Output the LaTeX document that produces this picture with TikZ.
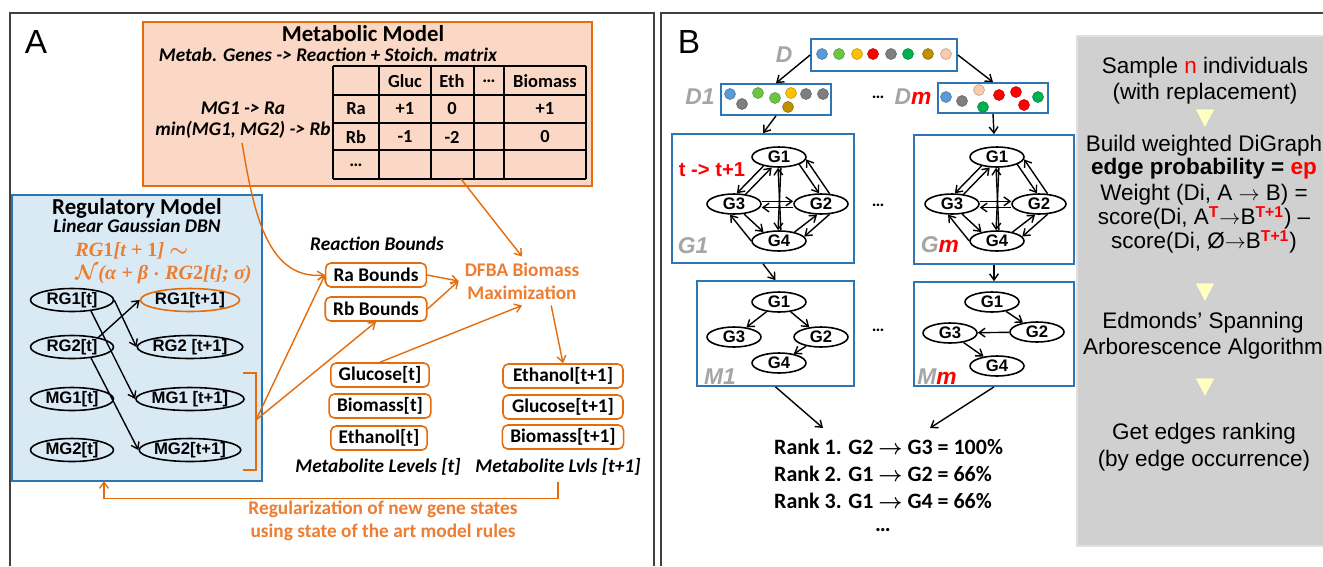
\documentclass[tikz,border=0pt]{standalone}
\usepackage{fontspec}
\setmainfont{Carlito}
\newfontfamily\arial[Ligatures=TeX]{Liberation Sans}
\newfontfamily\serifbi{Liberation Serif}
\usepackage{bm}
\usetikzlibrary{arrows.meta, calc, positioning, shapes.geometric}
\definecolor{orng}{HTML}{E46C0A}
\definecolor{orngtxt}{HTML}{ED7D31}
\definecolor{lachs}{HTML}{FBD8C5}
\definecolor{blau}{HTML}{2E75B6}
\definecolor{hellblau}{HTML}{DAEAF5}
\definecolor{grau}{HTML}{A5A5A5}
\definecolor{kasten}{HTML}{D0D0D0}
\definecolor{gelb}{HTML}{FFFFC2}
\definecolor{pblau}{HTML}{5B9BD5}
\definecolor{pgruen}{HTML}{6CC644}
\definecolor{pgelb}{HTML}{FFC000}
\definecolor{prot}{HTML}{FF0000}
\definecolor{pgrau}{HTML}{7F7F7F}
\definecolor{pdgruen}{HTML}{00B050}
\definecolor{pbraun}{HTML}{BF8F00}
\definecolor{phaut}{HTML}{F8CBAD}

\begin{document}
\begin{tikzpicture}[x=0.02cm, y=-0.02cm,
    ell/.style={draw, ellipse, line width=0.9pt, inner sep=0pt, minimum height=0.46cm,
                font=\arial\bfseries\fontsize{9.5}{11}\selectfont},
    gell/.style={ell, minimum width=1.08cm, minimum height=0.4cm},
    obox/.style={draw=orng, line width=0.9pt, rounded corners=3pt, fill=white,
                 inner xsep=4.5pt, inner ysep=2pt, minimum height=0.48cm,
                 font=\bfseries\fontsize{11}{13}\selectfont},
    gbox/.style={draw=blau, line width=1pt, inner sep=0pt},
    arr/.style={-{Straight Barb[length=3.5pt, width=5pt]}, line width=0.8pt},
    oarr/.style={arr, draw=orng},
    lbl/.style={font=\bfseries\itshape\fontsize{11}{12}\selectfont},
    otxt/.style={text=orngtxt, align=center, font=\bfseries\fontsize{11}{13}\selectfont},
    glbl/.style={text=grau, font=\arial\bfseries\itshape\fontsize{13}{15}\selectfont},
    grtxt/.style={align=center, font=\arial\fontsize{12.8}{14.7}\selectfont},
    cell/.style={font=\bfseries\fontsize{10.5}{12}\selectfont},
    formel/.style={text=orngtxt, anchor=west, inner sep=0pt, align=left,
                   font=\serifbi\bfseries\itshape\boldmath\fontsize{11.5}{12.8}\selectfont}
  ]
  \useasboundingbox (0,0) rectangle (1323,566);
  \fill[white] (0,0) rectangle (1323,566);
  % panel frames
  \draw[line width=1.2pt, black!75] (10,566) -- (10,13) -- (654,13) -- (654,566);
  \draw[line width=1.2pt, black!75] (661,566) -- (661,13) -- (1323,13);
  \node[font=\arial\fontsize{19}{22}\selectfont] (labA) at (36,42) {A};
  \node[font=\arial\fontsize{19}{22}\selectfont] (labB) at (689,42) {B};

  % metabolic model
  \draw[draw=orng, fill=lachs, line width=1pt] (143,22) rectangle (592,186);
  \node[font=\bfseries\fontsize{13}{15}\selectfont] (mtitle) at (363,34) {Metabolic Model};
  \node[lbl] (msub) at (328,55) {Metab. Genes -> Reaction + Stoich. matrix};
  \foreach \ty in {66,95,123,150,179} \draw[line width=0.9pt] (333,\ty) -- (586,\ty);
  \foreach \tx in {333,379,431,474,504,586} \draw[line width=0.9pt] (\tx,66) -- (\tx,179);
  \foreach \tx/\ty/\ct [count=\i] in {405/81/Gluc, 452/81/Eth, 489/81/\dots, 545/81/Biomass,
      356/109/Ra, 405/109/+1, 452/109/0, 545/109/+1,
      356/137/Rb, 405/137/-1, 452/137/-2, 545/137/0, 356/165/\dots}
    \node[cell] (cell\i) at (\tx,\ty) {\ct};
  \node[lbl, align=center] (mgrule) at (243,120) {MG1 -> Ra\\min(MG1, MG2) -> Rb};
  \coordinate (mgout) at (242,143);
  \coordinate (tabout) at (461,179);

  % regulatory model
  \draw[draw=blau, fill=hellblau, line width=1pt] (12,195) rectangle (262,481);
  \node[font=\bfseries\fontsize{13}{15}\selectfont] (rtitle) at (137,208) {Regulatory Model};
  \node[lbl] (rsub) at (137,226) {Linear Gaussian DBN};
  \node[formel] (form) at (75,263) {RG\textup{1}[t + \textup{1}] $\sim$\\$\mathcal{N}$(α + β $\cdot$ RG\textup{2}[t]; σ)};
  \node[ell, minimum width=1.66cm] (rg1) at (72,300) {RG1[t]};
  \node[ell, minimum width=1.66cm] (rg2) at (72,347) {RG2[t]};
  \node[ell, minimum width=1.66cm] (mg1) at (72,399) {MG1[t]};
  \node[ell, minimum width=1.66cm] (mg2) at (72,450) {MG2[t]};
  \node[ell, minimum width=1.96cm, draw=orng] (rg1n) at (190,300) {RG1[t+1]};
  \node[ell, minimum width=1.96cm] (rg2n) at (190,347) {RG2 [t+1]};
  \node[ell, minimum width=1.96cm] (mg1n) at (190,399) {MG1 [t+1]};
  \node[ell, minimum width=1.96cm] (mg2n) at (190,450) {MG2[t+1]};
  \draw[arr] (rg1.east) -- (rg2n.west);
  \draw[arr] (rg1.-30) -- (mg1n.west);
  \draw[arr] (rg2.20) -- (rg1n.west);
  \draw[arr] (rg2.-30) -- (mg2n.west);
  \draw[orng, line width=0.9pt] (243,373) -- (256,373) -- (256,470) -- (243,470);
  \coordinate (brk) at (256,420);

  % bounds and metabolites
  \node[lbl] (rblbl) at (377,244) {Reaction Bounds};
  \node[obox] (ra) at (376,275) {Ra Bounds};
  \node[obox] (rb) at (376,309) {Rb Bounds};
  \node[otxt] (dfba) at (522,281) {DFBA Biomass\\Maximization};
  \node[obox] (glc) at (380,375) {Glucose[t]};
  \node[obox] (bio) at (380,406) {Biomass[t]};
  \node[obox] (eth) at (379,438) {Ethanol[t]};
  \node[lbl] (lvl) at (378,467) {Metabolite Levels [t]};
  \node[obox, minimum width=2.4cm] (eth1) at (563,376) {Ethanol[t+1]};
  \node[obox, minimum width=2.4cm] (glc1) at (563,407) {Glucose[t+1]};
  \node[obox, minimum width=2.4cm] (bio1) at (563,437) {Biomass[t+1]};
  \node[lbl] (lvl1) at (558,467) {Metabolite Lvls [t+1]};
  \node[otxt] (regtxt) at (383,521) {Regularization of new gene states\\using state of the art model rules};
  \coordinate (regin) at (104,481);

  \draw[oarr] (mgout) to[out=-80, in=185] (ra.west);
  \draw[oarr] (tabout) -- (dfba.north);
  \draw[oarr] (ra.east) -- (dfba.west);
  \draw[oarr] (rb.east) -- (dfba.west);
  \draw[oarr] (brk) -- (ra.west);
  \draw[oarr] (brk) -- (rb.south);
  \draw[oarr] (glc.north) -- (dfba.south);
  \draw[oarr] (dfba.-40) -- (eth1.north);
  \draw[oarr] (lvl1.south) -- ++(0,17) -| (regin);

  % panel B: data sets
  \node[glbl] (dlbl) at (784,55) {D};
  \node[gbox, minimum width=2.92cm, minimum height=0.64cm] (dbox) at (884,55) {};
  \node[glbl] (d1lbl) at (700,97) {D1};
  \node[gbox, minimum width=2.2cm, minimum height=0.62cm] (d1box) at (776,99.5) {};
  \node[font=\bfseries] (dots1) at (878,97) {\dots};
  \node[glbl] (dmlbl) at (913,97) {D\textcolor{red}{m}};
  \node[gbox, minimum width=2.2cm, minimum height=0.6cm] (dmbox) at (993,98) {};
  \foreach \dx/\dy/\dc in {822/54/pblau, 839/54/pgruen, 857/54/pgelb, 873/54/prot, 891/54/pgrau,
      908/54/pdgruen, 928/54/pbraun, 946/54/phaut,
      730/94/pblau, 742/104/pgrau, 758/93/pgruen, 775/98/pgruen,
      791/93/pgelb, 788/107/pbraun, 806/94/pgrau, 823/94/pgrau,
      946/97/pblau, 962/101/pgrau, 979/90/phaut, 983/107/pdgruen,
      999/95/prot, 1016/92/prot, 1024/105/prot, 1038/97/pdgruen}
    \filldraw[fill=\dc, draw=\dc!75!black, line width=0.3pt] (\dx,\dy) circle[radius=0.11cm];
  \draw[arr] (dbox.west) -- (d1box.north);
  \draw[arr] (dbox.east) -- (dmbox.north);

  % panel B: graphs
  \node[gbox, minimum width=3.64cm, minimum height=2.58cm] (g1box) at (763,198.5) {};
  \node[gbox, minimum width=3.2cm, minimum height=2.58cm] (gmbox) at (994,199.5) {};
  \node[gbox, minimum width=3.14cm, minimum height=2.1cm] (m1box) at (775.5,333.5) {};
  \node[gbox, minimum width=3.2cm, minimum height=2.08cm] (mmbox) at (994,334) {};
  \node[text=red, font=\arial\bfseries\fontsize{11.5}{13}\selectfont] (tt) at (712,170) {t -> t+1};
  \node[glbl] (g1lbl) at (693,246) {G1};
  \node[glbl] (gmlbl) at (940,245) {G\textcolor{red}{m}};
  \node[glbl] (m1lbl) at (720,377) {M1};
  \node[glbl] (mmlbl) at (937,377) {M\textcolor{red}{m}};
  \node[font=\bfseries] (dots2) at (878,205) {\dots};
  \node[font=\bfseries] (dots3) at (878,330) {\dots};
  \draw[arr] (d1box.south) -- (g1box.north);
  \draw[arr] (dmbox.south) -- (gmbox.north);
  \draw[arr] (g1box.south) -- (m1box.north);
  \draw[arr] (gmbox.south) -- (mmbox.north);

  \foreach \p/\dx in {a/0, b/218} {
    \begin{scope}[shift={(\dx,0)}]
      \node[gell] (\p1) at (779,157) {G1};
      \node[gell] (\p3) at (734,204) {G3};
      \node[gell] (\p2) at (821,204) {G2};
      \node[gell] (\p4) at (779,241) {G4};
    \end{scope}
    \foreach \ea/\eb in {1.210/3.75, 3.40/1.235, 1.-80/4.95, 4.80/1.-95, 1.-20/2.100,
        2.50/1.-5, 3.-45/4.150, 4.180/3.-110, 4.30/2.-110, 2.-50/4.10}
      \draw[arr] (\p\ea) -- (\p\eb);
    \draw[arr] ([yshift=1.5pt]\p3.east) -- ([yshift=1.5pt]\p2.west);
    \draw[arr] ([yshift=-2pt]\p2.west) -- ([yshift=-2pt]\p3.east);
  }

  \node[gell] (ma1) at (779,302) {G1};
  \node[gell] (ma3) at (734,337) {G3};
  \node[gell] (ma2) at (821,337) {G2};
  \node[gell] (ma4) at (779,363) {G4};
  \draw[arr] (ma1) -- (ma3);
  \draw[arr] (ma1) -- (ma2);
  \draw[arr] (ma2) -- (ma4);
  \node[gell] (mb1) at (992,302) {G1};
  \node[gell] (mb3) at (950,333) {G3};
  \node[gell] (mb2) at (1037,332) {G2};
  \node[gell] (mb4) at (997,366) {G4};
  \draw[arr] (mb1) -- (mb2);
  \draw[arr] (mb2) -- (mb3);
  \draw[arr] (mb3) -- (mb4);

  % ranking
  \node[font=\bfseries\fontsize{12.5}{15.3}\selectfont, align=left, anchor=north west] (rank) at (768,433)
    {Rank 1. G2 $\bm{\rightarrow}$ G3 = 100\%\\Rank 2. G1 $\bm{\rightarrow}$ G2 = 66\%\\Rank 3. G1 $\bm{\rightarrow}$ G4 = 66\%};
  \node[font=\bfseries\fontsize{12.5}{15}\selectfont] (rdots) at (883,530) {\dots};
  \draw[arr] (m1box.south) -- ($(rank.north west)+(55,-5)$);
  \draw[arr] (mmbox.south) -- ($(rank.north west)+(162,-5)$);

  % steps box
  \draw[fill=kasten, draw=black!12, line width=0.8pt] (1077,36) rectangle (1330,546);
  \foreach \ty in {118,292,387}
    \filldraw[fill=gelb, draw=black!20, line width=0.4pt] (1195,\ty-9) -- (1215,\ty-9) -- (1205,\ty+10) -- cycle;
  \node[grtxt] (s1) at (1205,81) {Sample \textcolor{red}{n} individuals\\(with replacement)};
  \node[grtxt, font=\arial\fontsize{12.8}{11}\selectfont] (s2) at (1204,157.5)
    {Build weighted DiGraph\\\textbf{edge probability = \textcolor{red}{ep}}};
  \node[grtxt, font=\arial\fontsize{12.8}{13.6}\selectfont] (s3) at (1204,219)
    {Weight (Di, A $\rightarrow$ B) =\\
     score(Di, A\textsuperscript{\textbf{\textcolor{red}{T}}}$\rightarrow$B\textsuperscript{\textbf{\textcolor{red}{T+1}}}) –\\
     score(Di, Ø$\rightarrow$B\textsuperscript{\textbf{\textcolor{red}{T+1}}})};
  \node[grtxt] (s4) at (1203,336) {Edmonds’ Spanning\\Arborescence Algorithm};
  \node[grtxt, font=\arial\fontsize{12.8}{15.3}\selectfont] (s5) at (1204,447.5) {Get edges ranking\\(by edge occurrence)};
\end{tikzpicture}
\end{document}
